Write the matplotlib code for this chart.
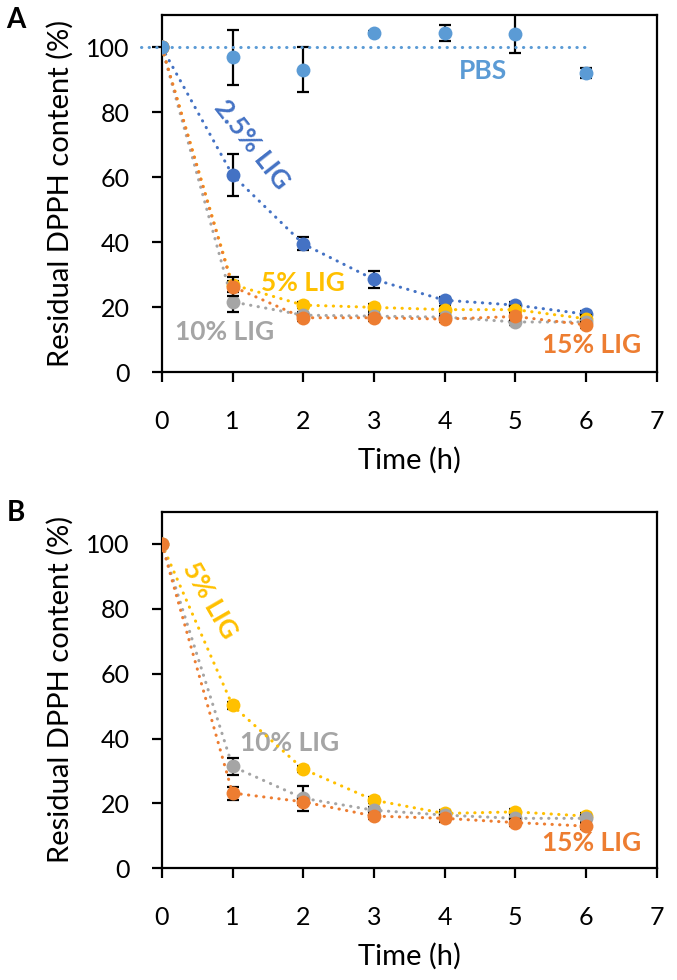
import numpy as np
import matplotlib
matplotlib.use('Agg')
import matplotlib.pyplot as plt

plt.rcParams['font.family'] = ['Lato', 'DejaVu Sans']

# 时间点 (h)
time_h = [0, 1, 2, 3, 4, 5, 6]

# 面板 A
a_pbs = [100, 96.9, 93.1, 104.4, 104.4, 104.1, 92.0]
a_pbs_err = [0, 8.5, 7.0, 0.5, 2.5, 6.0, 1.5]
a_lig25 = [100, 60.7, 39.5, 28.6, 22.2, 20.7, 17.9]
a_lig25_err = [0, 6.5, 2.0, 2.5, 1.0, 1.0, 1.0]
a_lig5 = [100, 27.0, 20.7, 20.0, 19.3, 19.3, 16.5]
a_lig5_err = [0, 1.0, 1.0, 1.0, 1.0, 1.0, 1.0]
a_lig10 = [100, 21.7, 17.6, 17.3, 17.0, 15.5, 15.5]
a_lig10_err = [0, 3.0, 1.0, 1.0, 1.0, 1.0, 1.0]
a_lig15 = [100, 26.4, 16.8, 16.8, 16.4, 17.2, 14.6]
a_lig15_err = [0, 3.0, 1.0, 1.0, 1.0, 1.0, 1.0]

# 面板 B
b_lig5 = [100, 50.2, 30.6, 21.0, 16.9, 17.4, 16.1]
b_lig5_err = [0, 1.0, 1.0, 1.0, 1.0, 1.0, 1.0]
b_lig10 = [100, 31.4, 21.6, 17.9, 16.4, 15.4, 15.4]
b_lig10_err = [0, 2.7, 3.8, 1.0, 1.0, 1.0, 1.0]
b_lig15 = [100, 23.2, 20.5, 16.1, 15.4, 14.1, 13.0]
b_lig15_err = [0, 2.0, 1.0, 1.0, 1.0, 1.0, 1.0]

C_PBS = '#5B9BD5'
C_25 = '#4472C4'
C_5 = '#FFC000'
C_10 = '#A5A5A5'
C_15 = '#ED7D31'

DOT = (0, (0.1, 2.4))
LBL = 19


def draw_series(ax, y, err, color, z):
    ax.errorbar(time_h, y, yerr=err, fmt='none', ecolor='black', elinewidth=1.6,
                capsize=4.5, capthick=1.6, zorder=z)
    ax.plot(time_h, y, linestyle=DOT, color=color, lw=2.2, dash_capstyle='round',
            marker='o', markersize=10, markeredgewidth=0, zorder=z + 0.5)


def style_axes(ax):
    ax.set_xlim(0, 7)
    ax.set_ylim(0, 110)
    ax.set_xticks(range(0, 8))
    ax.set_yticks(range(0, 101, 20))
    for s in ax.spines.values():
        s.set_linewidth(1.6)
    ax.tick_params(direction='out', length=7, width=1.6, labelsize=18)
    ax.tick_params(axis='y', pad=16)
    ax.tick_params(axis='x', pad=20)
    ax.set_xlabel('Time (h)', fontsize=21, labelpad=10)
    ax.set_ylabel('Residual DPPH content (%)', fontsize=21, labelpad=9)


fig = plt.figure(figsize=(6.77, 9.8), dpi=100)

# ---- A ----
axA = fig.add_axes([0.239, 0.620, 0.731, 0.365])
draw_series(axA, a_lig25, a_lig25_err, C_25, 2)
draw_series(axA, a_lig5, a_lig5_err, C_5, 3)
draw_series(axA, a_lig10, a_lig10_err, C_10, 4)
draw_series(axA, a_lig15, a_lig15_err, C_15, 5)
axA.errorbar(time_h, a_pbs, yerr=a_pbs_err, fmt='none', ecolor='black', elinewidth=1.6,
             capsize=4.5, capthick=1.6, zorder=6)
axA.plot(time_h, a_pbs, linestyle='none', color=C_PBS, marker='o', markersize=10,
         markeredgewidth=0, zorder=6.5)
# PBS 趋势线 (100%)
axA.plot([-0.3, 6], [100, 100], linestyle=DOT, color=C_PBS, lw=2.2,
         dash_capstyle='round', zorder=6.2, clip_on=False)
style_axes(axA)

axA.text(4.54, 92.6, 'PBS', color=C_PBS, fontsize=LBL, fontweight='bold', ha='center', va='center')
axA.text(1.27, 70, '2.5% LIG', color=C_25, fontsize=LBL, fontweight='bold', ha='center', va='center', rotation=-52)
axA.text(2.0, 27.5, '5% LIG', color=C_5, fontsize=LBL, fontweight='bold', ha='center', va='center')
axA.text(0.89, 12.4, '10% LIG', color=C_10, fontsize=LBL, fontweight='bold', ha='center', va='center')
axA.text(6.08, 8.4, '15% LIG', color=C_15, fontsize=LBL, fontweight='bold', ha='center', va='center')
fig.text(0.024, 0.980, 'A', fontsize=20, fontweight='bold', ha='center', va='center')

# ---- B ----
axB = fig.add_axes([0.239, 0.114, 0.731, 0.364])
draw_series(axB, b_lig5, b_lig5_err, C_5, 3)
draw_series(axB, b_lig10, b_lig10_err, C_10, 4)
draw_series(axB, b_lig15, b_lig15_err, C_15, 5)
style_axes(axB)

axB.text(0.68, 82.5, '5% LIG', color=C_5, fontsize=LBL, fontweight='bold', ha='center', va='center', rotation=-60)
axB.text(1.81, 38.5, '10% LIG', color=C_10, fontsize=LBL, fontweight='bold', ha='center', va='center')
axB.text(6.08, 7.7, '15% LIG', color=C_15, fontsize=LBL, fontweight='bold', ha='center', va='center')
fig.text(0.024, 0.477, 'B', fontsize=20, fontweight='bold', ha='center', va='center')

fig.savefig('out.png', dpi=100)
